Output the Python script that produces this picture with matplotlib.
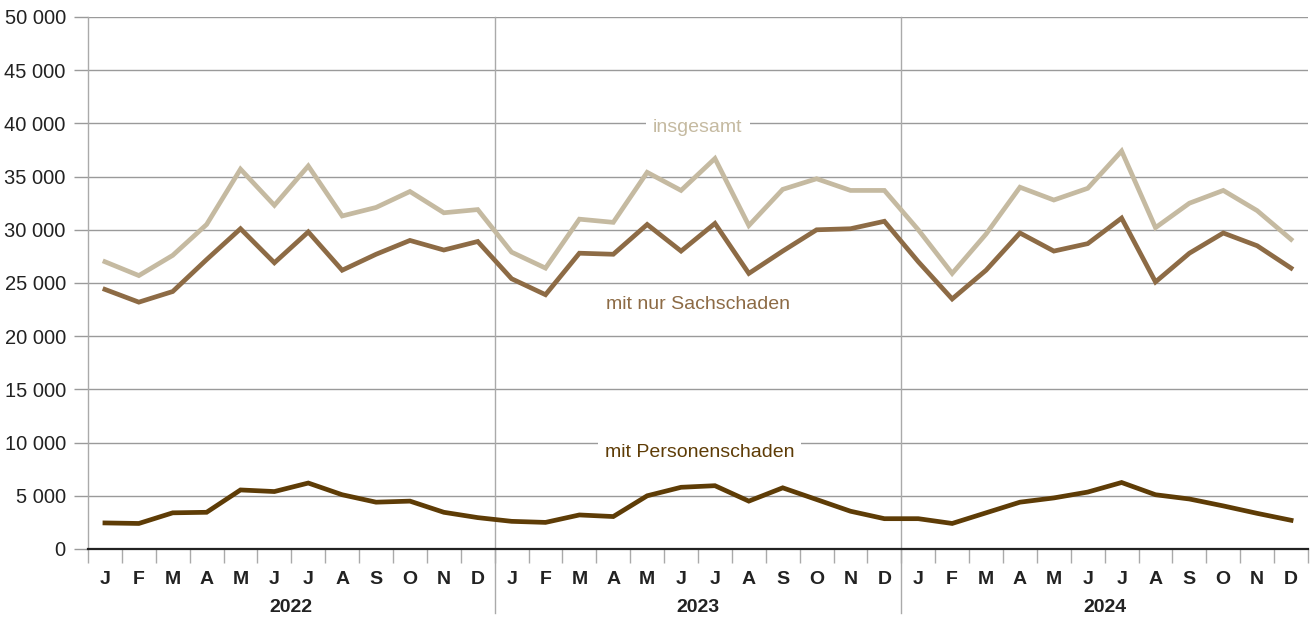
import matplotlib
matplotlib.use("Agg")
import matplotlib.pyplot as plt
from matplotlib.ticker import FuncFormatter
import matplotlib.transforms as mtransforms

plt.rcParams['font.family'] = ['Liberation Sans', 'DejaVu Sans']

months = ["J", "F", "M", "A", "M", "J", "J", "A", "S", "O", "N", "D"]
years = ["2022", "2023", "2024"]

insgesamt = [27000, 25700, 27600, 30500, 35700, 32300, 36000, 31300, 32100, 33600, 31600, 31900,
             27900, 26400, 31000, 30700, 35400, 33700, 36700, 30400, 33800, 34800, 33700, 33700,
             30000, 25900, 29600, 34000, 32800, 33900, 37400, 30200, 32500, 33700, 31800, 29100]
sachschaden = [24400, 23200, 24200, 27200, 30100, 26900, 29800, 26200, 27700, 29000, 28100, 28900,
               25400, 23900, 27800, 27700, 30500, 28000, 30600, 25900, 28000, 30000, 30100, 30800,
               27000, 23500, 26200, 29700, 28000, 28700, 31100, 25100, 27800, 29700, 28500, 26400]
personen = [2450, 2400, 3400, 3450, 5550, 5400, 6200, 5100, 4400, 4500, 3450, 2950,
            2600, 2500, 3200, 3050, 5000, 5800, 5950, 4500, 5750, 4650, 3550, 2850,
            2850, 2400, 3400, 4400, 4800, 5350, 6250, 5100, 4700, 4050, 3350, 2700]

c_ins = "#c5baa1"
c_sach = "#8d6b45"
c_pers = "#5e3c06"

fig = plt.figure(figsize=(13.14, 6.19), dpi=100)
ax = fig.add_axes([88/1314, 1-549/619, (1308-88)/1314, (549-17)/619])

x = list(range(len(insgesamt)))
ax.plot(x, insgesamt, color=c_ins, lw=3.4, solid_joinstyle='miter', zorder=3)
ax.plot(x, sachschaden, color=c_sach, lw=3.4, solid_joinstyle='miter', zorder=3)
ax.plot(x, personen, color=c_pers, lw=3.4, solid_joinstyle='miter', zorder=3)

ax.set_xlim(-0.5, 35.5)
ax.set_ylim(0, 50000)
ax.set_yticks(range(0, 50001, 5000))
ax.yaxis.set_major_formatter(FuncFormatter(lambda v, p: f"{int(v):,}".replace(",", " ")))
ax.grid(axis='y', color='#9a9a9a', lw=1.0, zorder=1)
ax.tick_params(axis='y', length=10, color='#9a9a9a', width=1.0, labelsize=14.5,
               labelcolor='#222222', pad=6)

ax.set_xticks(x)
ax.set_xticklabels(months * 3, fontweight='bold', fontsize=14, color='#222222')
ax.tick_params(axis='x', length=0, pad=16)
ax.set_xticks([i - 0.5 for i in range(37)], minor=True)
ax.tick_params(axis='x', which='minor', length=10, color='#aaaaaa', width=1.0)

for s in ['top', 'right']:
    ax.spines[s].set_visible(False)
ax.spines['left'].set_color('#aaaaaa')
ax.spines['left'].set_linewidth(1.0)
ax.spines['bottom'].set_color('#222222')
ax.spines['bottom'].set_linewidth(1.6)
ax.spines['bottom'].set_zorder(4)

trans = mtransforms.blended_transform_factory(ax.transData, ax.transAxes)
for xs in [11.5, 23.5]:
    ax.plot([xs, xs], [1.0, -0.12], transform=trans, color='#aaaaaa', lw=1.0,
            clip_on=False, zorder=2)
for i, yr in enumerate(years):
    ax.text(5.5 + 12 * i, -0.11, yr, transform=trans, ha='center', va='center',
            fontsize=14, fontweight='bold', color='#222222')

bbox = dict(boxstyle='square,pad=0.35', fc='white', ec='none')
ax.text(17.5, 39650, "insgesamt", ha='center', va='center', fontsize=14,
        color=c_ins, bbox=bbox, zorder=5)
ax.text(17.5, 22950, "mit nur Sachschaden", ha='center', va='center', fontsize=14,
        color=c_sach, zorder=5)
ax.text(17.55, 9100, "mit Personenschaden", ha='center', va='center', fontsize=14,
        color=c_pers, bbox=bbox, zorder=5)

fig.savefig("out.png", dpi=100)
